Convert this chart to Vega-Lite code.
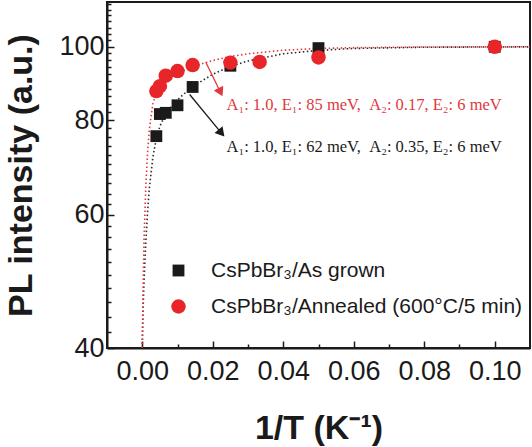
{
  "$schema": "https://vega.github.io/schema/vega-lite/v6.json",
  "width": 423,
  "height": 346,
  "autosize": "none",
  "padding": {"left": 107, "top": 2, "right": 2, "bottom": 99},
  "config": {
    "font": "Liberation Sans",
    "view": {"stroke": "#1a1a1a", "strokeWidth": 2},
    "axis": {
      "grid": false,
      "domainColor": "#1a1a1a",
      "domainWidth": 2,
      "tickColor": "#1a1a1a",
      "tickWidth": 1.5,
      "labelColor": "#1a1a1a",
      "titleColor": "#1a1a1a",
      "labelOverlap": false,
      "labelFlush": false
    }
  },
  "datasets": {
    "pl": [
      {"invT": 0.004, "PL": 76.2, "sample": "CsPbBr₃/As grown"},
      {"invT": 0.005, "PL": 81.5, "sample": "CsPbBr₃/As grown"},
      {"invT": 0.00667, "PL": 81.8, "sample": "CsPbBr₃/As grown"},
      {"invT": 0.01, "PL": 83.7, "sample": "CsPbBr₃/As grown"},
      {"invT": 0.01429, "PL": 88.5, "sample": "CsPbBr₃/As grown"},
      {"invT": 0.025, "PL": 94.4, "sample": "CsPbBr₃/As grown"},
      {"invT": 0.05, "PL": 99.6, "sample": "CsPbBr₃/As grown"},
      {"invT": 0.1, "PL": 100, "sample": "CsPbBr₃/As grown"},
      {"invT": 0.004, "PL": 87.4, "sample": "CsPbBr₃/Annealed (600°C/5 min)"},
      {"invT": 0.005, "PL": 88.7, "sample": "CsPbBr₃/Annealed (600°C/5 min)"},
      {"invT": 0.00667, "PL": 91.6, "sample": "CsPbBr₃/Annealed (600°C/5 min)"},
      {"invT": 0.01, "PL": 92.9, "sample": "CsPbBr₃/Annealed (600°C/5 min)"},
      {"invT": 0.01429, "PL": 94.6, "sample": "CsPbBr₃/Annealed (600°C/5 min)"},
      {"invT": 0.025, "PL": 95.3, "sample": "CsPbBr₃/Annealed (600°C/5 min)"},
      {"invT": 0.0333, "PL": 95.5, "sample": "CsPbBr₃/Annealed (600°C/5 min)"},
      {"invT": 0.05, "PL": 96.8, "sample": "CsPbBr₃/Annealed (600°C/5 min)"},
      {"invT": 0.1, "PL": 100, "sample": "CsPbBr₃/Annealed (600°C/5 min)"}
    ],
    "fitAsGrown": [
      {"invT": 0, "PL": 40}, {"invT": 0.0002, "PL": 44.5}, {"invT": 0.0005, "PL": 49.1},
      {"invT": 0.001, "PL": 55.1}, {"invT": 0.0015, "PL": 60.4}, {"invT": 0.002, "PL": 64.9},
      {"invT": 0.003, "PL": 71.4}, {"invT": 0.004, "PL": 75.7}, {"invT": 0.005, "PL": 78.5},
      {"invT": 0.006, "PL": 80.4}, {"invT": 0.008, "PL": 83.1}, {"invT": 0.01, "PL": 85.1},
      {"invT": 0.0125, "PL": 87.2}, {"invT": 0.015, "PL": 89.0}, {"invT": 0.02, "PL": 92.0},
      {"invT": 0.025, "PL": 94.2}, {"invT": 0.03, "PL": 95.8}, {"invT": 0.04, "PL": 97.9},
      {"invT": 0.05, "PL": 98.9}, {"invT": 0.06, "PL": 99.5}, {"invT": 0.08, "PL": 99.87},
      {"invT": 0.11, "PL": 99.98}
    ],
    "fitAnnealed": [
      {"invT": 0, "PL": 40}, {"invT": 0.0002, "PL": 47}, {"invT": 0.0005, "PL": 55.5},
      {"invT": 0.001, "PL": 65.3}, {"invT": 0.0015, "PL": 72.4}, {"invT": 0.002, "PL": 77.7},
      {"invT": 0.003, "PL": 84.0}, {"invT": 0.004, "PL": 87.1}, {"invT": 0.005, "PL": 88.7},
      {"invT": 0.006, "PL": 89.7}, {"invT": 0.008, "PL": 91.1}, {"invT": 0.01, "PL": 92.2},
      {"invT": 0.0125, "PL": 93.4}, {"invT": 0.015, "PL": 94.4}, {"invT": 0.02, "PL": 95.9},
      {"invT": 0.025, "PL": 97.1}, {"invT": 0.03, "PL": 97.9}, {"invT": 0.04, "PL": 98.96},
      {"invT": 0.05, "PL": 99.5}, {"invT": 0.06, "PL": 99.74}, {"invT": 0.08, "PL": 99.94},
      {"invT": 0.11, "PL": 100}
    ]
  },
  "layer": [
    {
      "data": {"name": "fitAsGrown"},
      "mark": {"type": "line", "color": "#2a2a2a", "strokeDash": [1.5, 2.5], "strokeWidth": 1.6, "clip": true},
      "encoding": {
        "x": {
          "field": "invT", "type": "quantitative",
          "scale": {"domain": [-0.01, 0.11], "nice": false, "zero": false},
          "axis": {
            "values": [0, 0.01, 0.02, 0.03, 0.04, 0.05, 0.06, 0.07, 0.08, 0.09, 0.1],
            "labelExpr": "round(datum.value * 100) % 2 === 0 ? format(datum.value, '.2f') : ''",
            "tickSize": {"condition": {"test": "round(datum.value * 100) % 2 === 0", "value": -7}, "value": -4},
            "labelFontSize": 27,
            "labelPadding": 17,
            "title": "1/T (K⁻¹)",
            "titleFontSize": 34,
            "titleFontWeight": "bold",
            "titleBaseline": "alphabetic",
            "titleY": 90
          }
        },
        "y": {
          "field": "PL", "type": "quantitative",
          "scale": {"type": "log", "domain": [40, 114.6], "nice": false, "zero": false},
          "axis": {
            "values": [40, 42, 44, 46, 48, 50, 52, 54, 56, 58, 60, 62, 64, 66, 68, 70, 72, 74, 76, 78, 80, 82, 84, 86, 88, 90, 92, 94, 96, 98, 100, 102, 104, 106, 108, 110, 112, 114],
            "labelExpr": "datum.value % 20 === 0 ? format(datum.value, 'd') : ''",
            "tickSize": {"condition": {"test": "datum.value % 20 === 0", "value": -7}, "value": -4},
            "labelFontSize": 27,
            "labelPadding": 10,
            "title": "PL intensity (a.u.)",
            "titleFontSize": 34,
            "titleFontWeight": "bold",
            "titleAngle": -90,
            "titleAlign": "center",
            "titleBaseline": "middle",
            "titleX": -86,
            "titleY": 173
          }
        }
      }
    },
    {
      "data": {"name": "fitAnnealed"},
      "mark": {"type": "line", "color": "#e0383c", "strokeDash": [1.5, 2.5], "strokeWidth": 1.6, "clip": true},
      "encoding": {
        "x": {"field": "invT", "type": "quantitative"},
        "y": {"field": "PL", "type": "quantitative"}
      }
    },
    {
      "data": {"values": [{"x1": 0.018, "y1": 95.5, "x2": 0.0222, "y2": 87.1}]},
      "mark": {"type": "rule", "color": "#e0383c", "strokeWidth": 1.3},
      "encoding": {
        "x": {"field": "x1", "type": "quantitative"},
        "y": {"field": "y1", "type": "quantitative"},
        "x2": {"field": "x2"},
        "y2": {"field": "y2"}
      }
    },
    {
      "data": {"values": [{"x2": 0.0222, "y2": 87.1}]},
      "mark": {"type": "point", "shape": "triangle-up", "filled": true, "color": "#e0383c", "opacity": 1, "size": 110, "angle": 154},
      "encoding": {
        "x": {"field": "x2", "type": "quantitative"},
        "y": {"field": "y2", "type": "quantitative"}
      }
    },
    {
      "data": {"values": [{"x1": 0.01345, "y1": 86.5, "x2": 0.02247, "y2": 76.9}]},
      "mark": {"type": "rule", "color": "#1a1a1a", "strokeWidth": 1.3},
      "encoding": {
        "x": {"field": "x1", "type": "quantitative"},
        "y": {"field": "y1", "type": "quantitative"},
        "x2": {"field": "x2"},
        "y2": {"field": "y2"}
      }
    },
    {
      "data": {"values": [{"x2": 0.02247, "y2": 76.9}]},
      "mark": {"type": "point", "shape": "triangle-up", "filled": true, "color": "#1a1a1a", "opacity": 1, "size": 110, "angle": 140},
      "encoding": {
        "x": {"field": "x2", "type": "quantitative"},
        "y": {"field": "y2", "type": "quantitative"}
      }
    },
    {
      "data": {"name": "pl"},
      "mark": {"type": "point", "filled": true, "opacity": 1, "strokeWidth": 0},
      "encoding": {
        "x": {"field": "invT", "type": "quantitative"},
        "y": {"field": "PL", "type": "quantitative"},
        "shape": {
          "field": "sample", "type": "nominal",
          "scale": {"domain": ["CsPbBr₃/As grown", "CsPbBr₃/Annealed (600°C/5 min)"], "range": ["square", "circle"]}
        },
        "color": {
          "field": "sample", "type": "nominal",
          "scale": {"domain": ["CsPbBr₃/As grown", "CsPbBr₃/Annealed (600°C/5 min)"], "range": ["#1a1a1a", "#e8262a"]},
          "legend": {
            "title": null,
            "orient": "none",
            "legendX": 61,
            "legendY": 258,
            "padding": 0,
            "symbolSize": 190,
            "symbolStrokeWidth": 0,
            "labelFontSize": 21,
            "labelColor": "#1a1a1a",
            "labelOffset": 22,
            "rowPadding": 14,
            "labelLimit": 400
          }
        },
        "size": {
          "field": "sample", "type": "nominal",
          "scale": {"domain": ["CsPbBr₃/As grown", "CsPbBr₃/Annealed (600°C/5 min)"], "range": [140, 210]},
          "legend": null
        }
      }
    },
    {
      "data": {"values": [
        {"x": 0.0239, "y": 83.7, "note": "A₁: 1.0, E₁: 85 meV,\u2002A₂: 0.17, E₂: 6 meV"}
      ]},
      "mark": {"type": "text", "align": "left", "baseline": "middle", "font": "Liberation Serif", "fontSize": 16.5, "color": "#e0383c"},
      "encoding": {
        "x": {"field": "x", "type": "quantitative"},
        "y": {"field": "y", "type": "quantitative"},
        "text": {"field": "note"}
      }
    },
    {
      "data": {"values": [
        {"x": 0.0239, "y": 73.8, "note": "A₁: 1.0, E₁: 62 meV,\u2002A₂: 0.35, E₂: 6 meV"}
      ]},
      "mark": {"type": "text", "align": "left", "baseline": "middle", "font": "Liberation Serif", "fontSize": 16.5, "color": "#1a1a1a"},
      "encoding": {
        "x": {"field": "x", "type": "quantitative"},
        "y": {"field": "y", "type": "quantitative"},
        "text": {"field": "note"}
      }
    }
  ]
}
